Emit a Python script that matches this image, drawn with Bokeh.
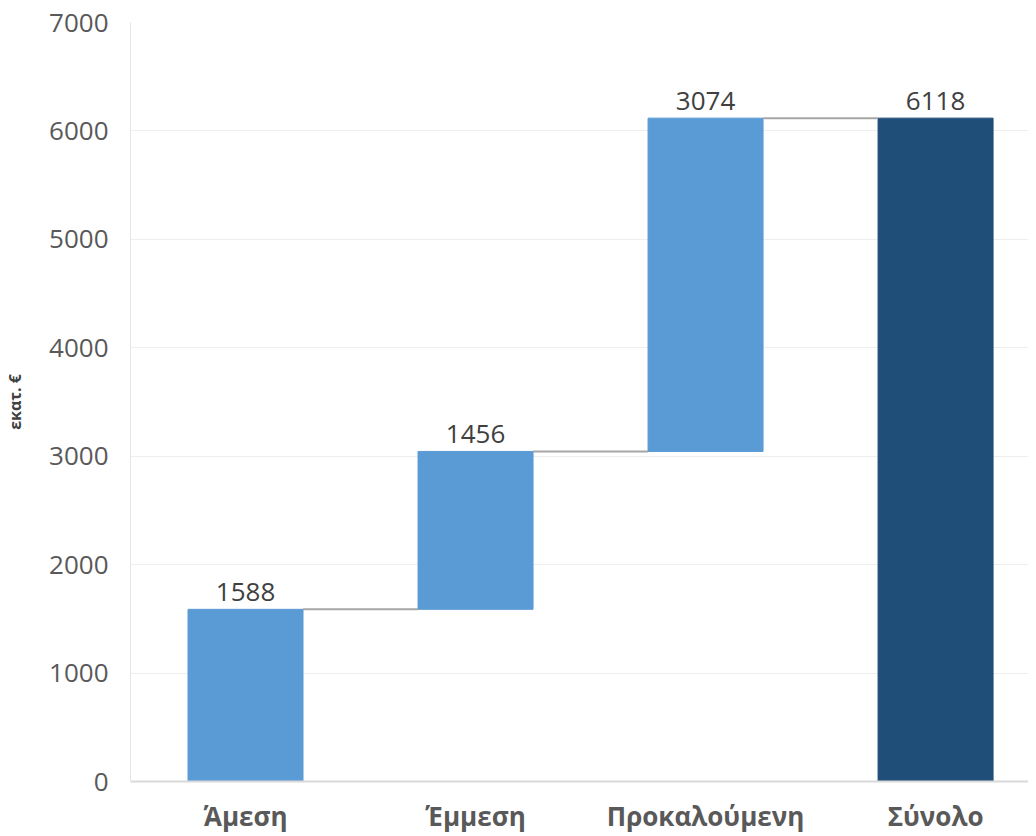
from bokeh.plotting import figure
from bokeh.models import ColumnDataSource, FixedTicker, Range1d
from bokeh.core.properties import value
from bokeh.embed import file_html
from bokeh.resources import INLINE

categories = ["Άμεση", "Έμμεση", "Προκαλούμενη", "Σύνολο"]
values = [1588, 1456, 3074]
total = 6118
y_ticks = [0, 1000, 2000, 3000, 4000, 5000, 6000, 7000]

# waterfall geometry from data
bottoms, tops = [], []
run = 0
for v in values:
    bottoms.append(run)
    run += v
    tops.append(run)
bottoms.append(0)
tops.append(total)
labels = [str(v) for v in values] + [str(total)]
xs = list(range(len(categories)))
colors = ["#5B9BD5"] * len(values) + ["#1F4E79"]

p = figure(width=1028, height=836, output_backend="svg", toolbar_location=None,
           x_range=Range1d(-0.5, 3.404), y_range=Range1d(0, 7000),
           min_border_left=130, min_border_right=0, min_border_top=22, min_border_bottom=40)
p.outline_line_color = None

src = ColumnDataSource(dict(x=xs, bottom=bottoms, top=tops, color=colors, label=labels))
p.vbar(x="x", bottom="bottom", top="top", width=0.5, color="color", source=src)

# connectors
for i in range(len(categories) - 1):
    p.segment(x0=[xs[i] + 0.25], y0=[tops[i]], x1=[xs[i + 1] - 0.25], y1=[tops[i]],
              line_color="#A6A6A6", line_width=2)

p.text(x="x", y="top", text="label", source=src, text_align="center", text_baseline="bottom",
       y_offset=-8, text_font=value("Open Sans"), text_font_size="26px", text_color="#404040")

p.xaxis.ticker = FixedTicker(ticks=xs)
p.xaxis.major_label_overrides = {i: c for i, c in enumerate(categories)}
p.xaxis.major_label_text_font = "Open Sans"
p.xaxis.major_label_text_font_style = "bold"
p.xaxis.major_label_text_font_size = "26px"
p.xaxis.major_label_text_color = "#595959"
p.xaxis.major_label_standoff = 10
p.xaxis.axis_line_color = "#D9D9D9"
p.xaxis.axis_line_width = 2
p.xaxis.major_tick_line_color = None
p.xaxis.minor_tick_line_color = None

p.yaxis.ticker = FixedTicker(ticks=y_ticks)
p.yaxis.major_label_text_font = "Open Sans"
p.yaxis.major_label_text_font_size = "26px"
p.yaxis.major_label_text_color = "#595959"
p.yaxis.major_label_standoff = 16
p.yaxis.axis_line_color = "#E6E6E6"
p.yaxis.major_tick_line_color = None
p.yaxis.minor_tick_line_color = None
p.yaxis.axis_label = "εκατ. €"
p.yaxis.axis_label_text_font = "Open Sans"
p.yaxis.axis_label_text_font_style = "bold"
p.yaxis.axis_label_text_font_size = "16px"
p.yaxis.axis_label_text_color = "#404040"
p.yaxis.axis_label_standoff = 20

p.xgrid.grid_line_color = None
p.ygrid.grid_line_color = "#EEEEEE"
p.ygrid.grid_line_width = 1

open("out.html", "w").write(file_html(p, INLINE))
